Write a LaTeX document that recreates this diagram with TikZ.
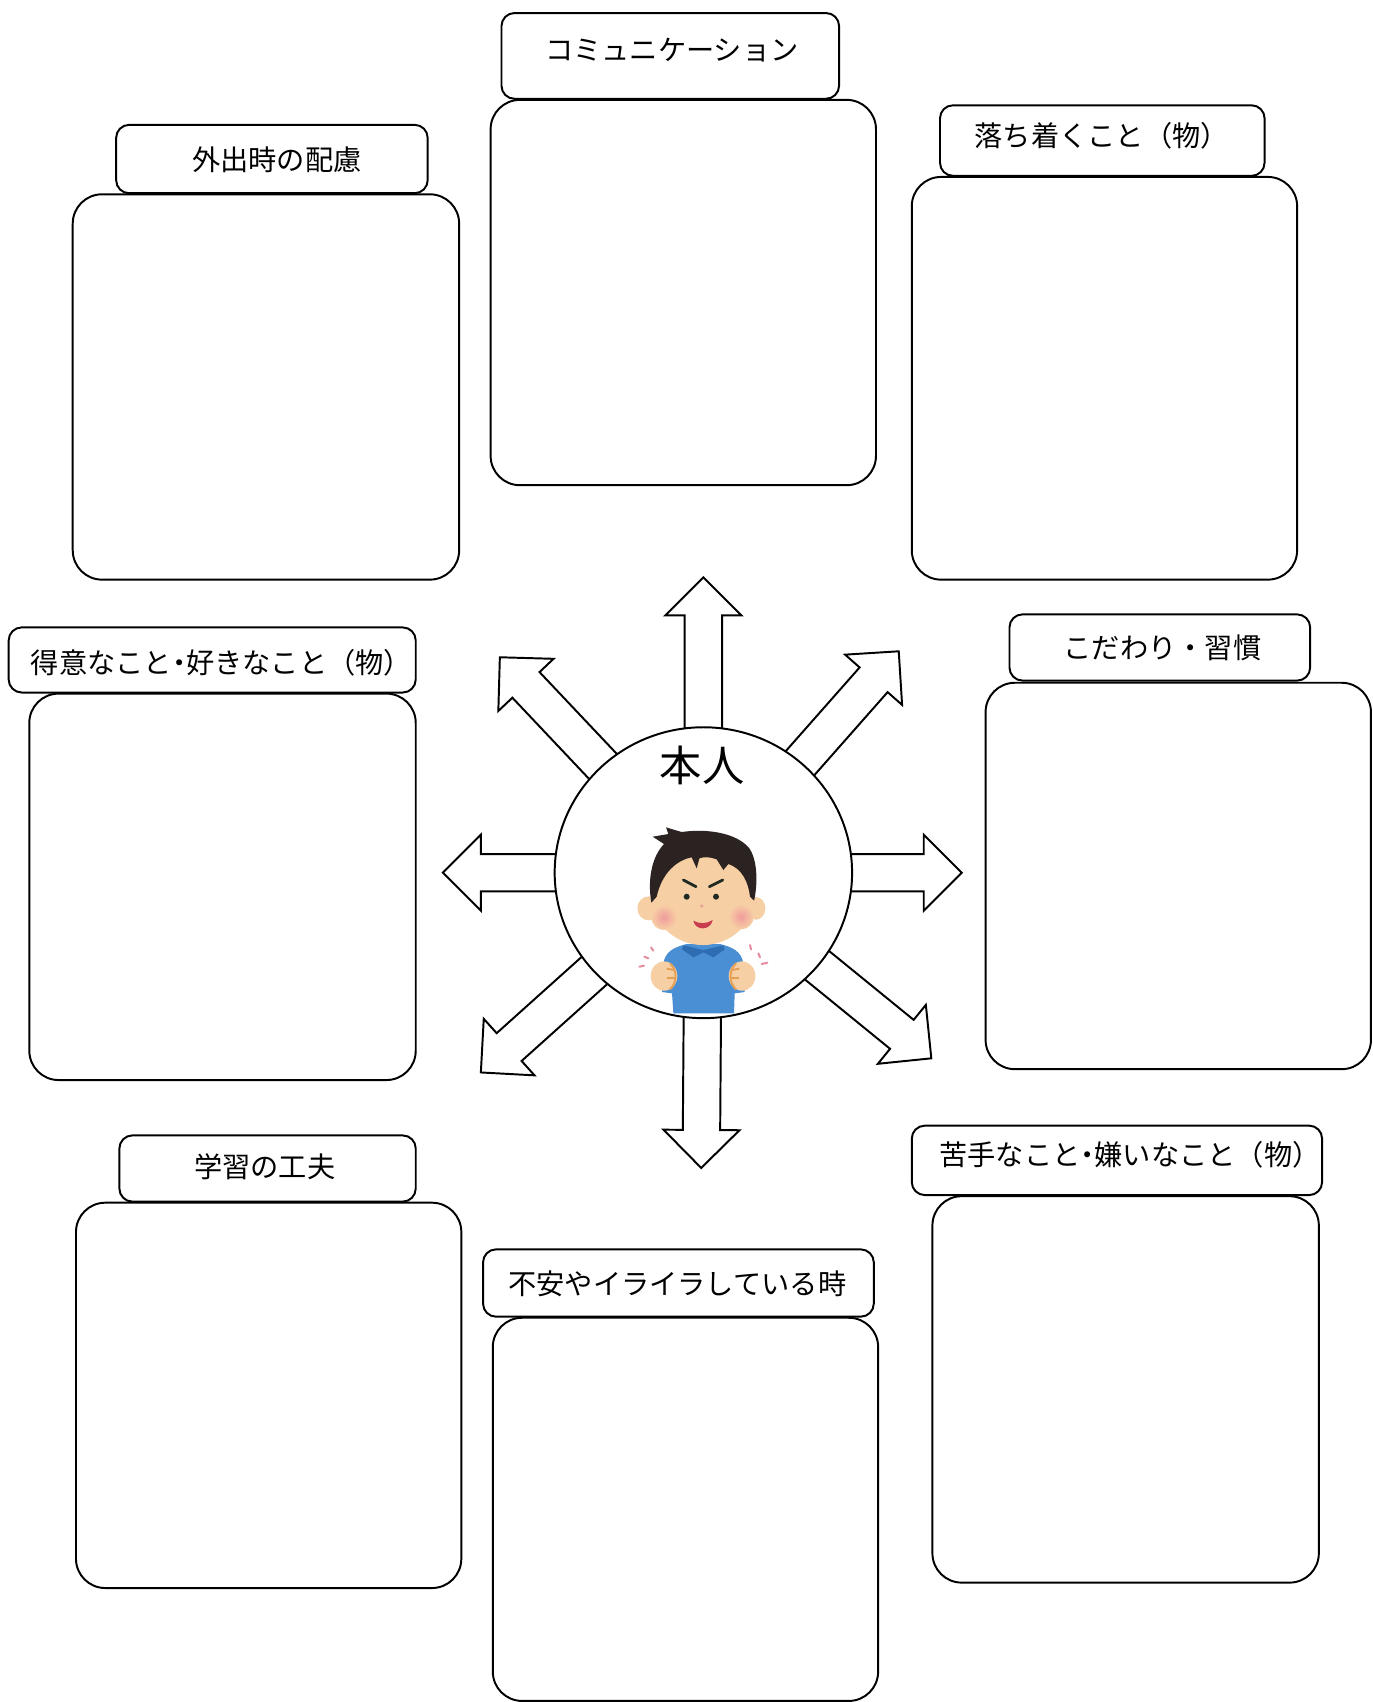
\documentclass[tikz,border=0pt]{standalone}
\usepackage{fontspec}
\newfontfamily\jp{Noto Sans CJK JP}
\usetikzlibrary{fit,shapes.geometric}

\definecolor{hair}{HTML}{2B2222}
\definecolor{skin}{HTML}{F7CFA4}
\definecolor{cheek}{HTML}{F09C9C}
\definecolor{shirt}{HTML}{4A8ED4}
\definecolor{collar}{HTML}{2F6DB2}
\definecolor{fistline}{HTML}{E6A055}
\definecolor{motion}{HTML}{E58A9A}
\definecolor{brow}{HTML}{1F2B22}
\definecolor{lip}{HTML}{C83E4E}
\definecolor{nosec}{HTML}{E89A9A}

\tikzset{
  panel/.style={draw, line width=0.9pt, rounded corners=13.5pt, inner sep=0pt, fill=white},
  tab/.style={draw, line width=0.9pt, rounded corners=6pt, inner sep=0pt, fill=white},
  tabtext/.style={inner sep=0pt, font=\jp\fontsize{13pt}{15pt}\selectfont},
  blockarrow/.style={draw, fill=white, line width=0.9pt, line join=miter},
  hub/.style={ellipse, draw, fill=white, line width=0.9pt, inner sep=0pt,
              minimum width=137pt, minimum height=134pt},
  hubtext/.style={inner sep=0pt, font=\jp\fontsize{19.5pt}{22pt}\selectfont},
}

% half-width middle dot
\newcommand\hdot{{\addfontfeatures{RawFeature=+halt}・}}

% outlined block arrow from coordinate #1 to tip coordinate #2
\newcommand\blockarrow[2]{%
  \pgfpointdiff{\pgfpointanchor{#1}{center}}{\pgfpointanchor{#2}{center}}%
  \pgfgetlastxy{\baDX}{\baDY}%
  \pgfmathsetmacro\baAng{atan2(\baDY,\baDX)}%
  \pgfmathsetmacro\baLen{veclen(\baDX,\baDY)}%
  \begin{scope}[shift={(#1)}, rotate=\baAng, x=1pt, y=1pt]
    \draw[blockarrow] (0,-8.6) -- ({\baLen-17.5},-8.6) -- ({\baLen-17.5},-17.5)
      -- (\baLen,0) -- ({\baLen-17.5},17.5) -- ({\baLen-17.5},8.6) -- (0,8.6);
  \end{scope}}

\begin{document}
\begin{tikzpicture}[x=0.5pt, y=-0.5pt]
\useasboundingbox (0,0) rectangle (1264,1568);
\fill[white] (0,0) rectangle (1264,1568);

% ---- panels with their tabs ----
\node[panel, fit={(67,179)(423,534)}] (p1) {};
\node[tab, fit={(107,115)(394,178)}] (t1) {};
\node[tabtext] (l1) at (255,147) {外出時の配慮};

\node[panel, fit={(452,92)(807,447)}] (p2) {};
\node[tab, fit={(462,12)(773,91)}] (t2) {};
\node[tabtext] (l2) at (619,46) {コミュニケーション};

\node[panel, fit={(840,163)(1195,534)}] (p3) {};
\node[tab, fit={(866,97)(1165,162)}] (t3) {};
\node[tabtext] (l3) at (1015,125) {落ち着くこと（物）};

\node[panel, fit={(27,639)(383,995)}] (p4) {};
\node[tab, fit={(8,578)(383,638)}] (t4) {};
\node[tabtext] (l4) at (204,611) {得意なこと\hdot 好きなこと（物）};

\node[panel, fit={(908,629)(1263,985)}] (p5) {};
\node[tab, fit={(930,566)(1207,627)}] (t5) {};
\node[tabtext] (l5) at (1071,597) {こだわり・習慣};

\node[panel, fit={(70,1108)(425,1463)}] (p6) {};
\node[tab, fit={(110,1046)(383,1107)}] (t6) {};
\node[tabtext] (l6) at (244,1075) {学習の工夫};

\node[panel, fit={(454,1214)(809,1567)}] (p7) {};
\node[tab, fit={(445,1151)(805,1213)}] (t7) {};
\node[tabtext] (l7) at (624,1183) {不安やイライラしている時};

\node[panel, fit={(859,1102)(1215,1458)}] (p8) {};
\node[tab, fit={(840,1037)(1218,1101)}] (t8) {};
\node[tabtext] (l8) at (1041,1064) {苦手なこと\hdot 嫌いなこと（物）};

% ---- arrows radiating from the centre ----
\coordinate (hubc) at (648,804);
\coordinate (tipN)  at (648,532);
\coordinate (tipS)  at (646,1076);
\coordinate (tipW)  at (408,804);
\coordinate (tipE)  at (886,804);
\coordinate (tipNW) at (460,605);
\coordinate (tipNE) at (828,600);
\coordinate (tipSW) at (443,988);
\coordinate (tipSE) at (858,975);
\blockarrow{hubc}{tipN}
\blockarrow{hubc}{tipS}
\blockarrow{hubc}{tipW}
\blockarrow{hubc}{tipE}
\blockarrow{hubc}{tipNW}
\blockarrow{hubc}{tipNE}
\blockarrow{hubc}{tipSW}
\blockarrow{hubc}{tipSE}

% ---- centre ----
\node[hub] (hub) at (hubc) {};
\node[hubtext] (me) at (647,705) {本人};

% ---- boy ----
\begin{scope}[shift={(497.5,644.9)}, scale=0.3071]
  % shirt and collar
  \fill[shirt] (400,940) -- (396,880) -- (366,876) -- (370,790)
    .. controls (376,755) and (400,742) .. (440,732) -- (540,732)
    .. controls (580,742) and (604,755) .. (610,790) -- (614,876)
    -- (584,880) -- (582,940) -- cycle;
  \fill[collar] (430,736) -- (490,750) -- (550,736) -- (554,748) -- (520,772)
    -- (490,757) -- (460,772) -- (426,748) -- cycle;
  % ears and face
  \fill[skin] (326,625) ellipse [x radius=34, y radius=36];
  \fill[skin] (648,625) ellipse [x radius=28, y radius=34];
  \fill[skin] (489,592) ellipse [x radius=152, y radius=143];
  \shade[inner color=cheek, outer color=skin] (372,652) circle (38);
  \shade[inner color=cheek, outer color=skin] (603,650) circle (38);
  % hair
  \fill[hair] (334,608) .. controls (322,540) and (335,470) .. (372,432)
    -- (338,410) -- (385,402) -- (378,382) -- (425,396)
    .. controls (500,385) and (590,398) .. (628,445)
    .. controls (655,485) and (652,560) .. (642,602)
    -- (630,590) .. controls (625,545) and (605,505) .. (565,492)
    -- (550,510) -- (530,478) .. controls (510,470) and (490,470) .. (478,475)
    -- (470,505) -- (455,472) .. controls (410,480) and (365,520) .. (350,590)
    -- cycle;
  % face details
  \draw[brow, line width=1.3pt, line cap=round] (430,540) -- (468,560);
  \draw[brow, line width=1.3pt, line cap=round] (508,560) -- (548,540);
  \fill[brow] (440,590) circle (9);
  \fill[brow] (528,590) circle (9);
  \fill[nosec] (485,618) circle (5);
  \fill[lip] (460,662) .. controls (478,672) and (500,672) .. (518,660)
    .. controls (512,692) and (466,694) .. (460,662) -- cycle;
  % fists
  \fill[skin] (372,828) ellipse [x radius=40, y radius=44];
  \fill[skin] (606,828) ellipse [x radius=40, y radius=44];
  \draw[fistline, line width=0.9pt] (390,790) .. controls (412,810) and (412,848) .. (390,868);
  \draw[fistline, line width=0.9pt] (380,806) -- (404,810);
  \draw[fistline, line width=0.9pt] (380,834) -- (406,834);
  \draw[fistline, line width=0.9pt] (588,790) .. controls (566,810) and (566,848) .. (588,868);
  \draw[fistline, line width=0.9pt] (598,806) -- (574,810);
  \draw[fistline, line width=0.9pt] (598,834) -- (572,834);
  % motion marks
  \draw[motion, line width=0.9pt, line cap=round] (298,800) -- (312,797);
  \draw[motion, line width=0.9pt, line cap=round] (313,770) -- (325,775);
  \draw[motion, line width=0.9pt, line cap=round] (333,742) -- (340,752);
  \draw[motion, line width=0.9pt, line cap=round] (630,735) -- (633,748);
  \draw[motion, line width=0.9pt, line cap=round] (655,760) -- (660,772);
  \draw[motion, line width=0.9pt, line cap=round] (665,792) -- (682,788);
\end{scope}
\end{tikzpicture}
\end{document}
